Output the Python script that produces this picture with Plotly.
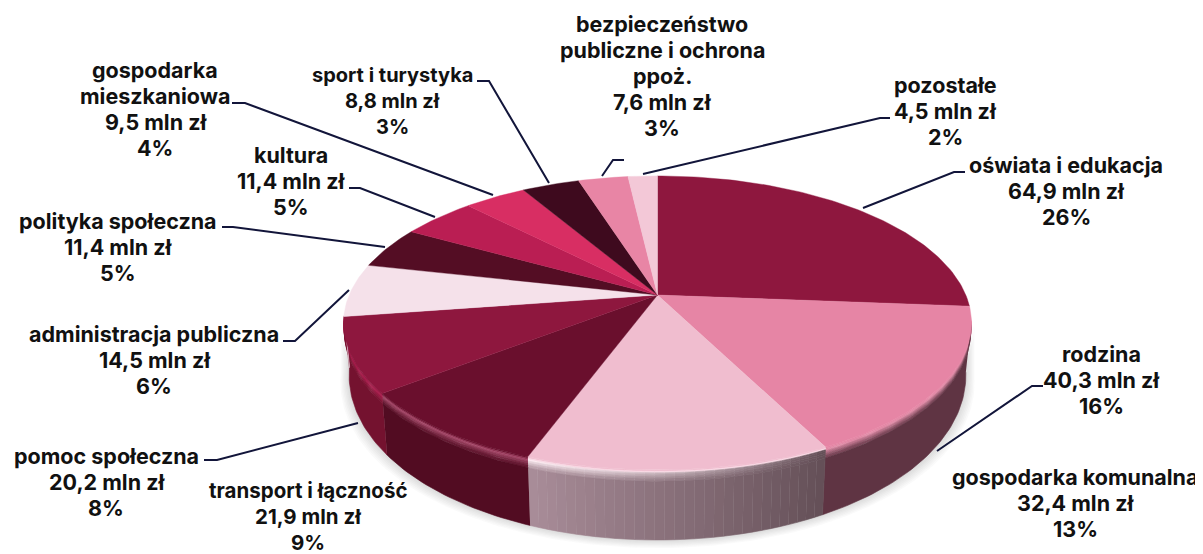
import numpy as np
import plotly.graph_objects as go

# ---------- data ----------
categories = ["oświata i edukacja", "rodzina", "gospodarka komunalna", "transport i łączność",
              "pomoc społeczna", "administracja publiczna", "polityka społeczna", "kultura",
              "gospodarka mieszkaniowa", "sport i turystyka", "bezpieczeństwo publiczne i ochrona ppoż.",
              "pozostałe"]
values = [64.9, 40.3, 32.4, 21.9, 20.2, 14.5, 11.4, 11.4, 9.5, 8.8, 7.6, 4.5]
percent = [26, 16, 13, 9, 8, 6, 5, 5, 4, 3, 3, 2]

label_lines = [["oświata i edukacja"], ["rodzina"], ["gospodarka komunalna"], ["transport i łączność"],
               ["pomoc społeczna"], ["administracja publiczna"], ["polityka społeczna"], ["kultura"],
               ["gospodarka", "mieszkaniowa"], ["sport i turystyka"],
               ["bezpieczeństwo", "publiczne i ochrona", "ppoż."], ["pozostałe"]]

# ---------- style ----------
top_colors = ["#8e173e", "#e685a5", "#f0bdcf", "#6a0f2d", "#8e173e", "#f5e1ea",
              "#540d24", "#ba1e53", "#d82e63", "#3e0a1e", "#e885a5", "#f3c8d7"]
wall_colors = ["#6b1230", "#5f3443", "#a88c98", "#520c22", "#74122f", "#f5e1ea",
               "#540d24", "#ba1e53", "#d82e63", "#3e0a1e", "#e885a5", "#f3c8d7"]
edge_colors = ["#a01d4a", "#e08aa6", "#fff0f5", "#a8486a", "#ad1c4e", "#f5e1ea",
               "#540d24", "#ba1e53", "#d82e63", "#3e0a1e", "#e885a5", "#f3c8d7"]
wall_end_komunalna = "#655058"

label_x = [1066, 1101, 1075, 308, 106, 154, 118, 291, 155, 392, 662, 945]
label_y = [165, 354, 477, 490, 456, 334, 221, 155, 70, 75, 24, 85]
label_size = [21.5, 21.5, 21.5, 20.5, 21.5, 21.5, 21.5, 21.5, 21.5, 20, 21.5, 21.5]
LINE_H = 26

leaders = [
    [(863, 208), (954, 172), (965, 172)],
    [(937, 451), (1032, 386), (1043, 386)],
    [(204, 460), (217, 460), (358, 423)],
    [(283, 341), (295, 341), (349, 290)],
    [(222, 227), (233, 227), (385, 247)],
    [(349, 188), (360, 188), (435, 217)],
    [(232, 103), (245, 103), (493, 195)],
    [(477, 81), (489, 81), (549, 183)],
    [(624, 160), (613, 160), (602, 176)],
    [(643, 174), (880, 118), (890, 118)],
]

# ---------- projection of the tilted disc ----------
CX, CY = 657.5, 295
A, B, P = 308.3, 141.7, 0.19


def top_pt(theta):
    u, v = np.sin(theta), np.cos(theta)
    w = 1 + P * v
    return CX + A * u / w, CY - B * v / w


def low_pt(theta, h):
    """Point h (0..1 of wall height) below the rim."""
    x, y = top_pt(theta)
    v = np.cos(theta)
    d = 48 + 22 * (-v)
    s = 1 - 0.018 * h
    return CX + (x - CX) * s, y + d * h


def rgb(c):
    return np.array([int(c[i:i + 2], 16) for i in (1, 3, 5)], float)


def mix(a, b, t):
    c = a + (b - a) * t
    return "rgb(%d,%d,%d)" % tuple(np.round(c))


def arc(t0, t1, step=np.radians(1)):
    n = max(2, int(abs(t1 - t0) / step) + 1)
    return np.linspace(t0, t1, n)


traces = []


def poly(xs, ys, color, lw=0.6, opacity=None):
    traces.append(go.Scatter(x=list(xs), y=list(ys), mode="lines", fill="toself", fillcolor=color,
                             line=dict(color=color, width=lw), hoverinfo="skip", showlegend=False,
                             opacity=opacity))


total = sum(values)
edges = np.concatenate([[0], np.cumsum(values)]) / total * 2 * np.pi

# soft shadow below the disc
full = arc(np.radians(100), np.radians(262))
for k in range(7):
    g = 9 - k * 1.3
    xs, ys = low_pt(full, 1.0)
    xs2 = CX + (xs - CX) * (1 + g / 320)
    ys2 = ys + g * 0.9
    poly(np.r_[xs2, xs2[::-1]], np.r_[ys2, ys2[::-1] - 60], "rgb(120,120,120)", lw=0, opacity=0.035)

# walls (only the front part is seen)
FRONT0, FRONT1 = np.radians(100), np.radians(262)
BEVEL = [0, .02, .04, .06, .09, .12, .16, 1.0]
for i in range(len(values)):
    t0, t1 = max(edges[i], FRONT0), min(edges[i + 1], FRONT1)
    if t1 <= t0:
        continue
    top, wall, edge = rgb(top_colors[i]), rgb(wall_colors[i]), rgb(edge_colors[i])
    gradient = categories[i] == "gospodarka komunalna"
    if gradient:
        ts = arc(t1, t0, np.radians(1.5))
        segs = list(zip(ts[:-1], ts[1:]))
        wall_end = rgb(wall_end_komunalna)
    else:
        segs = [(t0, t1)]
    for n, (a, b) in enumerate(segs):
        w = wall
        if gradient:
            w = wall + (wall_end - wall) * (n / (len(segs) - 1))
        th = arc(a, b)
        for j in range(len(BEVEL) - 1):
            h0, h1 = BEVEL[j], BEVEL[j + 1]
            f = j / (len(BEVEL) - 2)
            if f < 0.3:
                col = mix(top, edge, f / 0.3)
            else:
                e = edge if not gradient else edge * (1 - n / (len(segs) - 1)) + w * (n / (len(segs) - 1))
                col = mix(e, w, (f - 0.3) / 0.7)
            x0, y0 = low_pt(th, h0)
            x1, y1 = low_pt(th, h1)
            poly(np.r_[x0, x1[::-1]], np.r_[y0, y1[::-1]], col)

# top face
for i in range(len(values)):
    th = arc(edges[i], edges[i + 1])
    x, y = top_pt(th)
    poly(np.r_[CX, x, CX], np.r_[CY, y, CY], top_colors[i], lw=0.4)

# leader lines
for pts in leaders:
    traces.append(go.Scatter(x=[p[0] for p in pts], y=[p[1] for p in pts], mode="lines",
                             line=dict(color="#12153a", width=2), hoverinfo="skip", showlegend=False))

# labels
annotations = []
for i in range(len(values)):
    lines = label_lines[i] + [f"{str(values[i]).replace('.', ',')} mln zł", f"{percent[i]}%"]
    for j, t in enumerate(lines):
        annotations.append(dict(x=label_x[i], y=label_y[i] + j * LINE_H, text=t, showarrow=False,
                                xanchor="center", yanchor="middle",
                                font=dict(family="Inter, Lato, sans-serif", size=label_size[i],
                                          color="#111111", weight=700)))

fig = go.Figure(traces)
# the page has an 8 px body margin, so the plot starts at page pixel 8
fig.update_layout(
    width=1195, height=546, margin=dict(l=0, r=0, t=0, b=0), autosize=False,
    paper_bgcolor="white", plot_bgcolor="white", showlegend=False,
    xaxis=dict(range=[8, 1203], visible=False, fixedrange=True),
    yaxis=dict(range=[554, 8], visible=False, fixedrange=True),
    annotations=annotations,
)
fig.write_html("out.html")
